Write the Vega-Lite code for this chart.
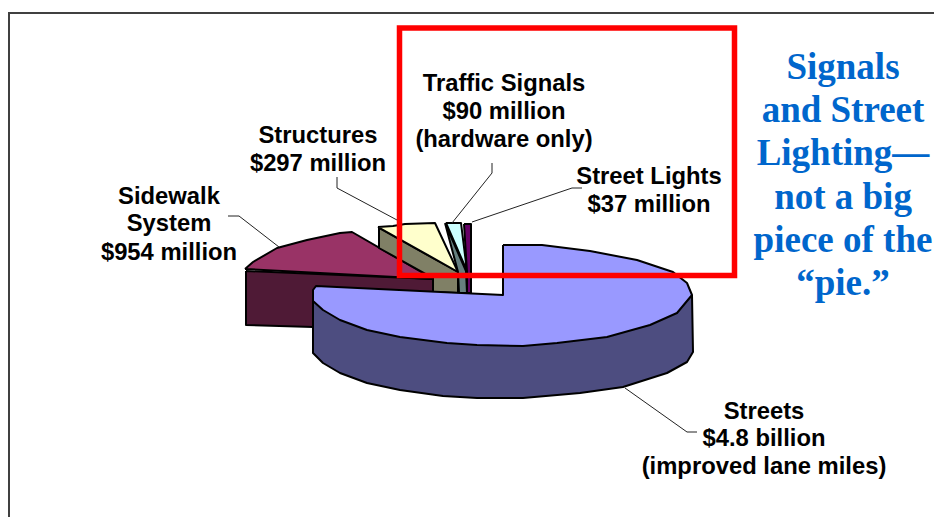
{"$schema":"https://vega.github.io/schema/vega-lite/v6.json","width":934,"height":517,"autosize":"none","padding":0,"background":"white","view":{"stroke":null},
"datasets":{
"faces":[
{"i":1,"s":"a","x":246,"y":271},{"i":2,"s":"a","x":433,"y":279},{"i":3,"s":"a","x":433,"y":292},{"i":4,"s":"a","x":313,"y":327},{"i":5,"s":"a","x":246,"y":325},{"i":6,"s":"a","x":246,"y":271},
{"i":10,"s":"b","x":245,"y":269},{"i":11,"s":"b","x":253,"y":262},{"i":12,"s":"b","x":277,"y":248},{"i":13,"s":"b","x":307,"y":240},{"i":14,"s":"b","x":340,"y":233},{"i":15,"s":"b","x":352,"y":232},{"i":16,"s":"b","x":423,"y":273},{"i":17,"s":"b","x":433,"y":279},{"i":18,"s":"b","x":245,"y":269},
{"i":20,"s":"c","x":379,"y":228},{"i":21,"s":"c","x":458,"y":272},{"i":22,"s":"c","x":458,"y":293},{"i":23,"s":"c","x":433,"y":292},{"i":24,"s":"c","x":433,"y":278},{"i":25,"s":"c","x":379,"y":248},{"i":26,"s":"c","x":379,"y":228},
{"i":30,"s":"d","x":378,"y":227},{"i":31,"s":"d","x":393,"y":226},{"i":32,"s":"d","x":405,"y":224},{"i":33,"s":"d","x":435,"y":223},{"i":34,"s":"d","x":458,"y":272},{"i":35,"s":"d","x":378,"y":227},
{"i":40,"s":"e","x":445,"y":223},{"i":41,"s":"e","x":466,"y":271},{"i":42,"s":"e","x":467,"y":293},{"i":43,"s":"e","x":459,"y":293},{"i":44,"s":"e","x":458,"y":272},{"i":45,"s":"e","x":445,"y":223},
{"i":50,"s":"f","x":446,"y":223},{"i":51,"s":"f","x":461,"y":223},{"i":52,"s":"f","x":467,"y":271},{"i":53,"s":"f","x":446,"y":223},
{"i":60,"s":"g","x":464,"y":224},{"i":61,"s":"g","x":471,"y":224},{"i":62,"s":"g","x":471,"y":293},{"i":63,"s":"g","x":467,"y":293},{"i":64,"s":"g","x":467,"y":272},{"i":65,"s":"g","x":464,"y":224},
{"i":70,"s":"h","x":692,"y":295},{"i":71,"s":"h","x":693,"y":352},{"i":72,"s":"h","x":687,"y":362},{"i":73,"s":"h","x":667,"y":373},{"i":74,"s":"h","x":623,"y":387},{"i":75,"s":"h","x":580,"y":393},{"i":76,"s":"h","x":523,"y":398},{"i":77,"s":"h","x":477,"y":398},{"i":78,"s":"h","x":443,"y":396},{"i":79,"s":"h","x":400,"y":390},{"i":80,"s":"h","x":367,"y":383},{"i":81,"s":"h","x":340,"y":373},{"i":82,"s":"h","x":323,"y":363},{"i":83,"s":"h","x":313,"y":353},{"i":84,"s":"h","x":313,"y":301},{"i":85,"s":"h","x":692,"y":295},
{"i":90,"s":"i","x":503,"y":245},{"i":91,"s":"i","x":542,"y":245},{"i":92,"s":"i","x":590,"y":251},{"i":93,"s":"i","x":637,"y":260},{"i":94,"s":"i","x":673,"y":272},{"i":95,"s":"i","x":687,"y":283},{"i":96,"s":"i","x":692,"y":295},{"i":97,"s":"i","x":677,"y":313},{"i":98,"s":"i","x":650,"y":325},{"i":99,"s":"i","x":607,"y":337},{"i":100,"s":"i","x":557,"y":343},{"i":101,"s":"i","x":523,"y":346},{"i":102,"s":"i","x":477,"y":345},{"i":103,"s":"i","x":447,"y":343},{"i":104,"s":"i","x":400,"y":337},{"i":105,"s":"i","x":367,"y":330},{"i":106,"s":"i","x":340,"y":320},{"i":107,"s":"i","x":323,"y":310},{"i":108,"s":"i","x":313,"y":301},{"i":109,"s":"i","x":313,"y":290},{"i":110,"s":"i","x":316,"y":286},{"i":111,"s":"i","x":503,"y":295},{"i":112,"s":"i","x":503,"y":245}
],
"leaders":[
{"i":1,"s":"sw","x":228,"y":216},{"i":2,"s":"sw","x":239,"y":216},{"i":3,"s":"sw","x":279,"y":247},
{"i":4,"s":"st","x":337,"y":177},{"i":5,"s":"st","x":337,"y":188},{"i":6,"s":"st","x":397,"y":220},
{"i":7,"s":"ts","x":492,"y":163},{"i":8,"s":"ts","x":492,"y":173},{"i":9,"s":"ts","x":452,"y":223},
{"i":10,"s":"sl","x":582,"y":188},{"i":11,"s":"sl","x":572,"y":188},{"i":12,"s":"sl","x":472,"y":222},
{"i":13,"s":"sr","x":625,"y":388},{"i":14,"s":"sr","x":687,"y":432},{"i":15,"s":"sr","x":697,"y":432}
],
"labels":[
{"t":"Traffic Signals","x":504,"y":83.5},{"t":"$90 million","x":504,"y":111.5},{"t":"(hardware only)","x":504,"y":139.5},
{"t":"Street Lights","x":649,"y":176.5},{"t":"$37 million","x":649,"y":204.5},
{"t":"Structures","x":318,"y":135.5},{"t":"$297 million","x":318,"y":163.5},
{"t":"Sidewalk","x":169,"y":196.5},{"t":"System","x":169,"y":223.5},{"t":"$954 million","x":169,"y":252.5},
{"t":"Streets","x":764,"y":411.5},{"t":"$4.8 billion","x":764,"y":439},{"t":"(improved lane miles)","x":764,"y":467}
],
"note":[
{"t":"Signals","x":843,"y":68},{"t":"and Street","x":843,"y":111},{"t":"Lighting—","x":843,"y":154},{"t":"not a big","x":843,"y":198},{"t":"piece of the","x":843,"y":241},{"t":"“pie.”","x":843,"y":284}
],
"box":[{"x":399.5,"x2":734.5,"y":28,"y2":275.5}],
"frame":[{"i":1,"x":934,"y":13},{"i":2,"x":9,"y":13},{"i":3,"x":9,"y":517}]
},
"encoding":{
"x":{"field":"x","type":"quantitative","scale":{"domain":[0,934],"nice":false,"zero":false},"axis":null},
"y":{"field":"y","type":"quantitative","scale":{"domain":[517,0],"nice":false,"zero":false},"axis":null}
},
"layer":[
{"data":{"name":"frame"},"mark":{"type":"line","stroke":"#404040","strokeWidth":2},"encoding":{"order":{"field":"i"}}},
{"data":{"name":"faces"},"mark":{"type":"line","stroke":"black","strokeWidth":2,"strokeJoin":"round","filled":false,"fill":"white"},"encoding":{"order":{"field":"i"},"detail":{"field":"s"},"fill":{"field":"s","type":"nominal","legend":null,"scale":{"domain":["a","b","c","d","e","f","g","h","i"],"range":["#4f1a36","#993366","#808066","#ffffcc","#667f7f","#ccffff","#660066","#4d4d80","#9999ff"]}}}},
{"data":{"name":"leaders"},"mark":{"type":"line","stroke":"#222222","strokeWidth":1},"encoding":{"order":{"field":"i"},"detail":{"field":"s"}}},
{"data":{"name":"box"},"mark":{"type":"rect","fill":null,"stroke":"#ff0000","strokeWidth":5.5},"encoding":{"x2":{"field":"x2"},"y2":{"field":"y2"}}},
{"data":{"name":"labels"},"mark":{"type":"text","font":"Liberation Sans","fontWeight":"bold","fontSize":23.8,"align":"center","baseline":"middle","color":"black"},"encoding":{"text":{"field":"t"}}},
{"data":{"name":"note"},"mark":{"type":"text","font":"Liberation Serif","fontWeight":"bold","fontSize":37,"align":"center","baseline":"middle","color":"#0066cc"},"encoding":{"text":{"field":"t"}}}
]}
